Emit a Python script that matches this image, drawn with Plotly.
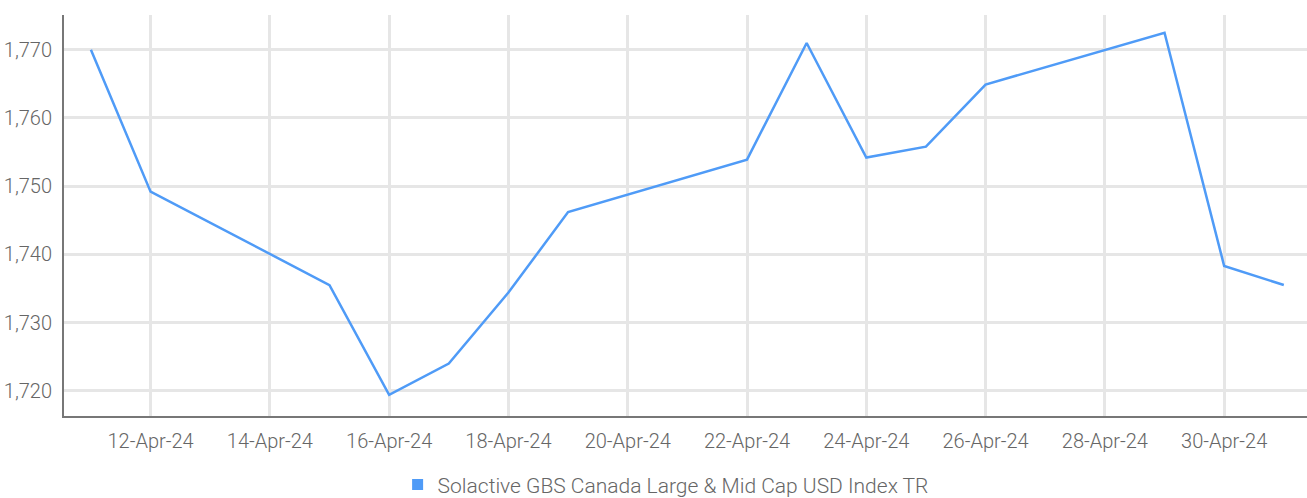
import plotly.graph_objects as go

dates = ["2024-04-11", "2024-04-12", "2024-04-15", "2024-04-16", "2024-04-17",
         "2024-04-18", "2024-04-19", "2024-04-22", "2024-04-23", "2024-04-24",
         "2024-04-25", "2024-04-26", "2024-04-29", "2024-04-30", "2024-05-01"]
values = [1770.0, 1749.2, 1735.5, 1719.4, 1724.0,
          1734.4, 1746.2, 1753.9, 1771.0, 1754.2,
          1755.8, 1764.9, 1772.5, 1738.3, 1735.5]
series_name = "Solactive GBS Canada Large & Mid Cap USD Index TR"

FONT = "Roboto, sans-serif"
TXT = "#666666"

fig = go.Figure()
fig.add_trace(go.Scatter(x=dates, y=values, mode="lines", name=series_name,
                         line=dict(color="#4f9bf7", width=2.5), showlegend=False))
fig.add_trace(go.Scatter(x=[None], y=[None], mode="markers", name=series_name,
                         marker=dict(symbol="square", size=11, color="#4f9bf7"),
                         showlegend=True))

fig.update_layout(
    width=1307, height=498,
    margin=dict(l=64, r=0, t=15, b=82, autoexpand=False),
    plot_bgcolor="white", paper_bgcolor="white",
    font=dict(family=FONT, size=20, color=TXT, weight=300),
    showlegend=True,
    legend=dict(orientation="h", x=0.484, xanchor="center", y=-0.172, yanchor="middle",
                font=dict(family=FONT, size=21, color=TXT, weight=300), itemwidth=30),
    xaxis=dict(
        type="date", automargin=False,
        range=["2024-04-10 13:10", "2024-05-01 09:20"],
        tickmode="linear", tick0="2024-04-12", dtick=2 * 86400000,
        tickformat="%d-%b-%y",
        tickfont=dict(family=FONT, size=20, color=TXT, weight=300),
        showgrid=True, gridcolor="#e6e6e6", gridwidth=3,
        showline=True, linecolor="#777777", linewidth=2,
        ticks="", ticklabelstandoff=6,
        zeroline=False,
    ),
    yaxis=dict(
        automargin=False,
        range=[1716.3, 1775.1],
        tickmode="linear", tick0=1720, dtick=10,
        tickformat=",d",
        tickfont=dict(family=FONT, size=20, color=TXT, weight=300),
        showgrid=True, gridcolor="#e6e6e6", gridwidth=3,
        showline=True, linecolor="#777777", linewidth=2,
        ticks="", ticklabelstandoff=6,
        zeroline=False,
    ),
)

fig.write_html("out.html", config={"displayModeBar": False},
               post_script="document.body.style.margin='0';")
